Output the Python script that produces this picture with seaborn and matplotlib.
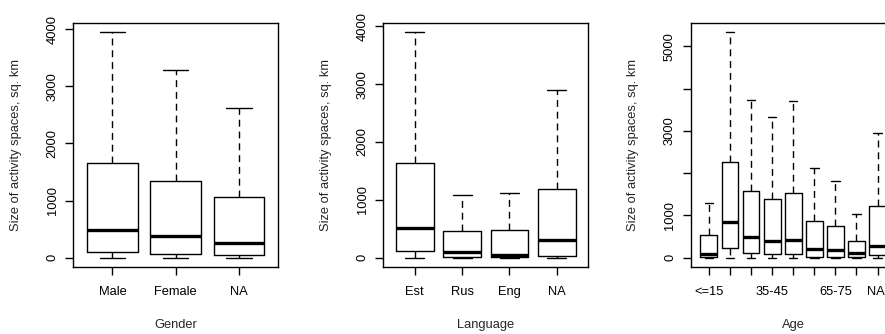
import numpy as np
import pandas as pd
import matplotlib
matplotlib.use("Agg")
import matplotlib.pyplot as plt
import matplotlib.transforms as mtransforms
import seaborn as sns

# Podsumowanie pięcioliczbowe (min, Q1, mediana, Q3, max)
gender_cats = ["Male", "Female", "NA"]
gender_lo = [0, 0, 0]
gender_q1 = [93, 65, 40]
gender_med = [492, 378, 251]
gender_q3 = [1652, 1348, 1060]
gender_hi = [3954, 3281, 2624]

lang_cats = ["Est", "Rus", "Eng", "NA"]
lang_lo = [0, 0, 0, 0]
lang_q1 = [116, 12, 6, 35]
lang_med = [505, 95, 38, 300]
lang_q3 = [1632, 463, 481, 1192]
lang_hi = [3906, 1082, 1123, 2900]

age_cats = ["<=15", "15-25", "25-35", "35-45", "45-55", "55-65", "65-75", ">75", "NA"]
age_labels = ["<=15", "", "", "35-45", "", "", "65-75", "", "NA"]
age_lo = [0, 0, 0, 0, 0, 0, 0, 0, 0]
age_q1 = [17, 238, 111, 79, 79, 16, 16, 5, 63]
age_med = [90, 848, 499, 404, 412, 214, 190, 119, 285]
age_q3 = [530, 2258, 1569, 1379, 1537, 872, 745, 404, 1220]
age_hi = [1291, 5348, 3739, 3328, 3716, 2131, 1814, 1030, 2955]

y_title = "Size of activity spaces, sq. km"

sns.set_style("ticks")
plt.rcParams["font.family"] = ["Liberation Sans", "DejaVu Sans"]
plt.rcParams["font.size"] = 9.3
plt.rcParams["axes.edgecolor"] = "black"
plt.rcParams["axes.linewidth"] = 1.0


def long_frame(cats, lo, q1, med, q3, hi):
    # pięć punktów na kategorię -> kwartyle równe odczytanym wartościom
    rows = []
    for i, c in enumerate(cats):
        for v in (lo[i], q1[i], med[i], q3[i], hi[i]):
            rows.append({"group": c, "value": v})
    return pd.DataFrame(rows)


def draw(ax, df, cats, xlabel, ymax):
    sns.boxplot(data=df, x="group", y="value", order=cats, ax=ax,
                whis=(0, 100), fill=False, color="black", width=0.8,
                linewidth=1.0,
                whiskerprops={"linestyle": (0, (5, 3.5))},
                medianprops={"linewidth": 2.4, "color": "black"},
                boxprops={"color": "black"}, capprops={"color": "black"})
    n = len(cats)
    pad = 0.04 * n
    ax.set_xlim(-0.5 - pad, n - 0.5 + pad)
    ax.set_ylim(-0.04 * ymax, ymax * 1.04)
    ax.set_xlabel(xlabel)
    ax.set_ylabel(y_title)
    ax.xaxis.set_label_coords(0.5, -0.238)
    ax.xaxis.label.set_va("center")
    ax.yaxis.set_label_coords(-0.28, 0.5)
    ax.yaxis.label.set_va("center")
    ax.tick_params(axis="both", direction="out", length=5.6, width=1.0,
                   colors="black")
    ax.tick_params(axis="x", pad=8.5)
    ax.tick_params(axis="y", pad=5)
    for s in ax.spines.values():
        s.set_visible(True)
        s.set_color("black")


fig = plt.figure(figsize=(8.85, 3.34), dpi=100)
ax1 = fig.add_axes([0.0828, 0.2015, 0.2316, 0.7305])
ax2 = fig.add_axes([0.4331, 0.2015, 0.2316, 0.7305])
ax3 = fig.add_axes([0.7805, 0.2015, 0.2316, 0.7305])

draw(ax1, long_frame(gender_cats, gender_lo, gender_q1, gender_med, gender_q3, gender_hi),
     gender_cats, "Gender", max(gender_hi))
ax1.set_yticks([0, 1000, 2000, 3000, 4000])

draw(ax2, long_frame(lang_cats, lang_lo, lang_q1, lang_med, lang_q3, lang_hi),
     lang_cats, "Language", max(lang_hi))
ax2.set_yticks([0, 1000, 2000, 3000, 4000])

draw(ax3, long_frame(age_cats, age_lo, age_q1, age_med, age_q3, age_hi),
     age_cats, "Age", max(age_hi))
ax3.set_xticks(range(len(age_cats)))
ax3.set_xticklabels(age_labels)
ax3.set_yticks([0, 1000, 2000, 3000, 4000, 5000])
ax3.set_yticklabels(["0", "1000", "", "3000", "", "5000"])

# ostatnia etykieta trochę w lewo, żeby zmieściła się w obrazku
last = ax3.get_xticklabels()[-1]
last.set_transform(last.get_transform() +
                   mtransforms.ScaledTranslation(-2 / 100, 0, fig.dpi_scale_trans))

for ax in (ax1, ax2, ax3):
    for lab in ax.get_yticklabels():
        lab.set_rotation(90)
        lab.set_va("center")

fig.savefig("out.png", dpi=100)
